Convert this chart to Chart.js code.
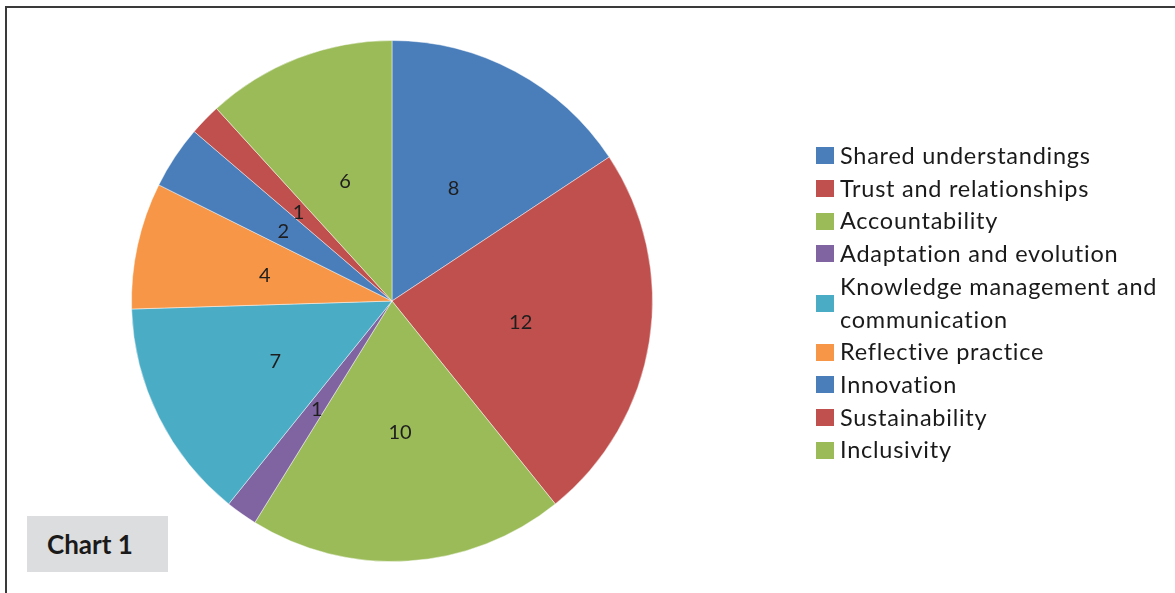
<!DOCTYPE html>
<html>
<head>
<meta charset="utf-8">
<script src="https://cdn.jsdelivr.net/npm/chart.js@4.4.1/dist/chart.umd.min.js"></script>
<style>
  html, body { margin: 0; padding: 0; background: #fff; }
  body { width: 1175px; height: 593px; position: relative; overflow: hidden; font-family: Lato, "Open Sans", sans-serif; }
  #frame { position: absolute; left: 5px; top: 6px; width: 1300px; height: 700px; border: 2px solid #3a3a3a; box-sizing: border-box; }
  #wrap { position: absolute; left: 0; top: 0; width: 1175px; height: 593px; }
  #legend { position: absolute; left: 816px; top: 139px; margin: 0; padding: 0; list-style: none; }
  #legend li { position: relative; padding-left: 24px; font-size: 23.5px; letter-spacing: 0.75px; line-height: 32.7px; color: #1a1a1a; white-space: nowrap; }
  #legend li span { position: absolute; left: 0; top: 50%; width: 18px; height: 17px; margin-top: -8px; }
  #caption { position: absolute; left: 27px; top: 516px; width: 141px; height: 56px; background: #dcdddf; }
  #caption b { position: absolute; left: 20px; top: 12px; font-size: 26px; color: #1a1a1a; }
</style>
</head>
<body>
<div id="frame"></div>
<div id="wrap"><canvas id="pieChart" width="1175" height="593"></canvas></div>
<ul id="legend"></ul>
<div id="caption"><b>Chart 1</b></div>
<script>
  var categories = [
    "Shared understandings",
    "Trust and relationships",
    "Accountability",
    "Adaptation and evolution",
    "Knowledge management and communication",
    "Reflective practice",
    "Innovation",
    "Sustainability",
    "Inclusivity"
  ];
  var legendLines = [
    ["Shared understandings"],
    ["Trust and relationships"],
    ["Accountability"],
    ["Adaptation and evolution"],
    ["Knowledge management and", "communication"],
    ["Reflective practice"],
    ["Innovation"],
    ["Sustainability"],
    ["Inclusivity"]
  ];
  var counts = [8, 12, 10, 1, 7, 4, 2, 1, 6];
  var colours = ["#4a7ebb", "#c0504d", "#9bbb59", "#8064a2", "#4bacc6", "#f79646", "#4a7ebb", "#c0504d", "#9bbb59"];

  // slice values written at the middle of each slice
  var sliceLabels = {
    id: "sliceLabels",
    afterDatasetsDraw: function(chart) {
      var ctx = chart.ctx;
      var meta = chart.getDatasetMeta(0);
      ctx.save();
      ctx.font = "20px Lato, sans-serif";
      ctx.fillStyle = "#1e1e1e";
      ctx.textAlign = "center";
      ctx.textBaseline = "middle";
      meta.data.forEach(function(arc, i) {
        var p = arc.getCenterPoint();
        ctx.fillText(String(counts[i]), p.x, p.y + 2);
      });
      ctx.restore();
    }
  };

  new Chart(document.getElementById("pieChart"), {
    type: "pie",
    data: {
      labels: categories,
      datasets: [{
        data: counts,
        backgroundColor: colours,
        borderColor: "rgba(255,255,255,0.45)",
        borderWidth: 1
      }]
    },
    options: {
      responsive: false,
      animation: false,
      layout: { padding: { left: 130, top: 40, right: 521, bottom: 31 } },
      plugins: {
        legend: { display: false },
        tooltip: { enabled: false }
      }
    },
    plugins: [sliceLabels]
  });

  var legend = document.getElementById("legend");
  legendLines.forEach(function(lines, i) {
    var li = document.createElement("li");
    var box = document.createElement("span");
    box.style.background = colours[i];
    li.appendChild(box);
    li.appendChild(document.createTextNode(lines[0]));
    for (var k = 1; k < lines.length; k++) {
      li.appendChild(document.createElement("br"));
      li.appendChild(document.createTextNode(lines[k]));
    }
    legend.appendChild(li);
  });
</script>
</body>
</html>
